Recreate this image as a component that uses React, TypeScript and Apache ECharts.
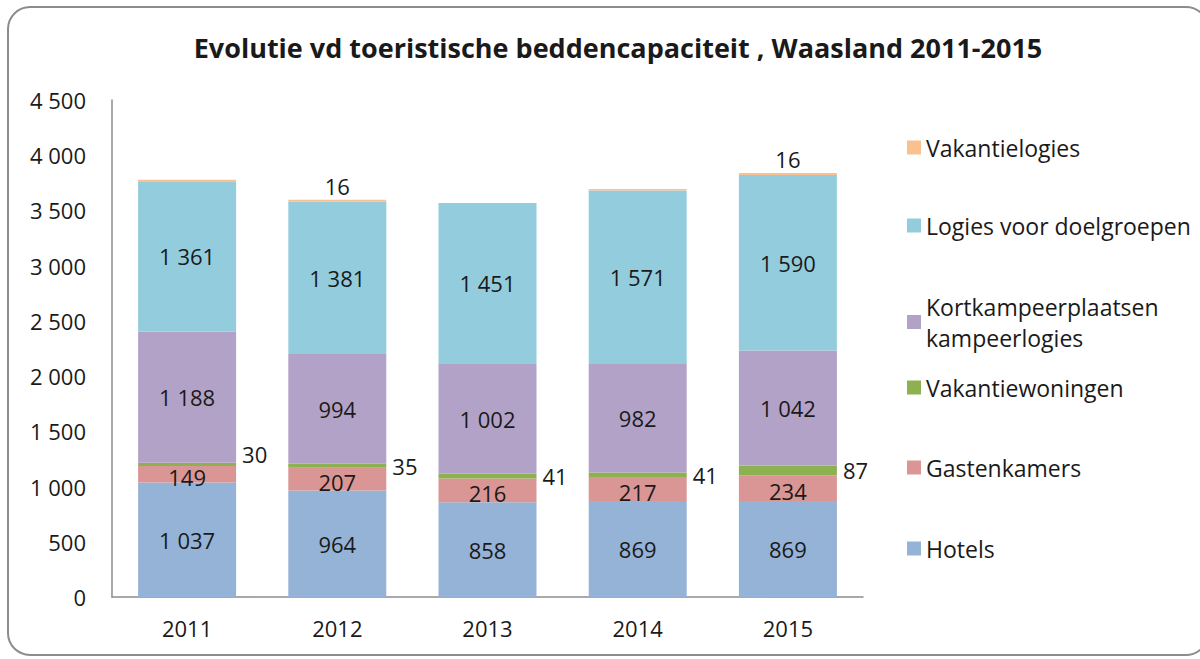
import React, { useEffect, useRef } from "react";
import * as echarts from "echarts";

const years = ["2011", "2012", "2013", "2014", "2015"];
const hotels = [1037, 964, 858, 869, 869];
const gastenkamers = [149, 207, 216, 217, 234];
const vakantiewoningen = [30, 35, 41, 41, 87];
const kortkampeer = [1188, 994, 1002, 982, 1042];
const logiesDoelgroepen = [1361, 1381, 1451, 1571, 1590];
const vakantielogies = [12, 16, 0, 14, 16];
const vakantielogiesShowLabel = [false, true, false, false, true];
const yTicks = [0, 500, 1000, 1500, 2000, 2500, 3000, 3500, 4000, 4500];

const FONT = "'Open Sans', Lato, sans-serif";
const fmt = (v: number) => String(v).replace(/\B(?=(\d{3})+(?!\d))/g, " ");

export default function App() {
  const ref = useRef<HTMLDivElement>(null);
  useEffect(() => {
    const chart = echarts.init(ref.current!, null, { renderer: "svg" });
    const insideLabel = {
      show: true,
      position: "inside",
      color: "#1a1a1a",
      fontSize: 22,
      fontFamily: FONT,
      formatter: (p: any) => fmt(p.value),
    };
    const names = [
      "Vakantielogies",
      "Logies voor doelgroepen",
      "Kortkampeerplaatsen kampeerlogies",
      "Vakantiewoningen",
      "Gastenkamers",
      "Hotels",
    ];
    const legendTops = [127, 205, 286, 367, 447, 528];
    const legends = names.map((n, i) => ({
      data: [n],
      left: 902,
      top: legendTops[i],
      orient: "vertical",
      icon: "rect",
      itemWidth: 14,
      itemHeight: 14,
      itemGap: 0,
      formatter: (name: string) =>
        name === "Kortkampeerplaatsen kampeerlogies"
          ? "Kortkampeerplaatsen\nkampeerlogies"
          : name,
      textStyle: {
        fontSize: 23,
        fontFamily: FONT,
        color: "#1a1a1a",
        lineHeight: 31,
        padding: [0, 0, 0, 0],
      },
      selectedMode: false,
    }));
    const common = { type: "bar", stack: "total", barWidth: 98 };
    chart.setOption({
      animation: false,
      backgroundColor: "#ffffff",
      graphic: [
        {
          type: "rect",
          shape: { x: 8, y: 7, width: 1200, height: 648, r: 22 },
          style: { fill: "none", stroke: "#8c8c8c", lineWidth: 2 },
          silent: true,
        },
      ],
      title: {
        text: "Evolutie vd toeristische beddencapaciteit , Waasland 2011-2015",
        left: 613,
        top: 29,
        textAlign: "center",
        textStyle: {
          fontSize: 27,
          fontWeight: "bold",
          fontFamily: FONT,
          color: "#1a1a1a",
        },
      },
      legend: legends,
      grid: { left: 112, right: 337, top: 100, bottom: 62, containLabel: false },
      xAxis: {
        type: "category",
        data: years,
        axisLine: { lineStyle: { color: "#8c8c8c", width: 1.5 } },
        axisTick: { show: false },
        axisLabel: {
          fontSize: 22,
          fontFamily: FONT,
          color: "#1a1a1a",
          margin: 20,
        },
      },
      yAxis: {
        type: "value",
        min: 0,
        max: 4500,
        interval: 500,
        axisLine: { show: true, lineStyle: { color: "#8c8c8c", width: 1.5 } },
        axisTick: { show: false },
        splitLine: { show: false },
        axisLabel: {
          fontSize: 22,
          fontFamily: FONT,
          color: "#1a1a1a",
          margin: 26,
          formatter: (v: number) => (yTicks.includes(v) ? fmt(v) : ""),
        },
      },
      series: [
        {
          ...common,
          name: "Hotels",
          data: hotels,
          itemStyle: { color: "#95B3D7" },
          label: insideLabel,
        },
        {
          ...common,
          name: "Gastenkamers",
          data: gastenkamers,
          itemStyle: { color: "#DA9694" },
          label: { ...insideLabel, offset: [0, 3] },
        },
        {
          ...common,
          name: "Vakantiewoningen",
          data: vakantiewoningen.map((v, i) => ({
            value: v,
            label: i === 0 ? { offset: [0, -10] } : {},
          })),
          itemStyle: { color: "#8DB050" },
          label: {
            show: true,
            position: "right",
            distance: 6,
            color: "#1a1a1a",
            fontSize: 22,
            fontFamily: FONT,
            formatter: (p: any) => fmt(p.value),
          },
        },
        {
          ...common,
          name: "Kortkampeerplaatsen kampeerlogies",
          data: kortkampeer,
          itemStyle: { color: "#B3A2C7" },
          label: insideLabel,
        },
        {
          ...common,
          name: "Logies voor doelgroepen",
          data: logiesDoelgroepen,
          itemStyle: { color: "#93CDDD" },
          label: insideLabel,
        },
        {
          ...common,
          name: "Vakantielogies",
          data: vakantielogies.map((v, i) => ({
            value: v,
            label: { show: vakantielogiesShowLabel[i] },
          })),
          itemStyle: { color: "#FAC090" },
          label: {
            position: "top",
            distance: 3,
            color: "#1a1a1a",
            fontSize: 22,
            fontFamily: FONT,
            formatter: (p: any) => fmt(p.value),
          },
        },
      ],
    });
    return () => chart.dispose();
  }, []);
  return (
    <div
      ref={ref}
      style={{ position: "absolute", left: 0, top: 0, width: 1200, height: 659 }}
    />
  );
}
